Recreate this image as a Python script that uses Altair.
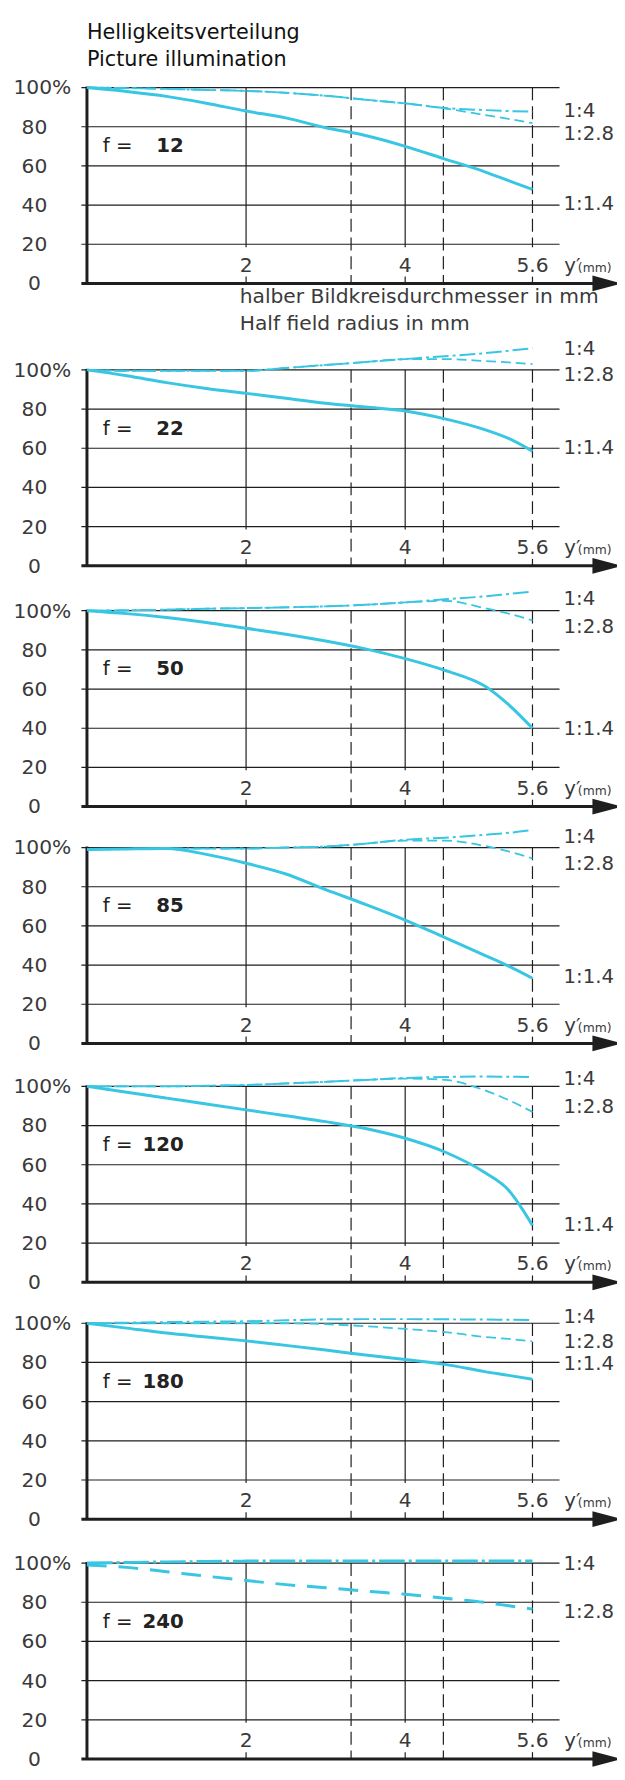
import altair as alt
import pandas as pd

# ---------------- data ----------------
FOCALS = ["12", "22", "50", "85", "120", "180", "240"]
X_MM = [0, 0.5, 1, 1.5, 2, 2.5, 3, 3.5, 4, 4.5, 5, 5.3, 5.6]

F14 = [  # aperture 1:1.4 (solid)
    [100, 98, 95.5, 92, 88, 84.5, 79.5, 75.5, 70, 63.5, 57, 52.5, 48],
    [100, 97, 93.5, 90.5, 88, 85.5, 83, 81, 79, 75, 69.5, 65, 58.5],
    [100, 98.5, 96.5, 94, 91, 88, 84.5, 80.5, 75.5, 69.5, 61.5, 52, 40],
    [99, 99.3, 99.5, 96.5, 92, 86.5, 78.5, 71, 63, 54, 45, 39.5, 33.3],
    [100, 97, 94, 91, 88, 85, 82, 78.5, 73.5, 66.5, 56, 47, 29],
    [100, 97.5, 95, 93, 91, 88.7, 86.3, 83.8, 81.5, 79, 75.3, 73.4, 71.4],
    None,
]
F28 = [  # aperture 1:2.8 (dashed)
    [100, 99.7, 99.3, 98.8, 98.3, 97.3, 95.8, 93.8, 91.9, 89.3, 86, 84, 81.8],
    [100, 99.5, 99.5, 99.5, 99.5, 101, 102.5, 104, 105.5, 105.5, 104.5, 103.8, 103],
    [100, 100.2, 100.5, 101, 101.3, 101.7, 102.2, 103, 104.2, 105, 101.3, 98.5, 95],
    [99, 99.3, 99.5, 99.5, 99.5, 100, 100.5, 102, 103.5, 103.5, 100.8, 98, 94.4],
    [100, 100, 100, 100.3, 100.7, 101.5, 102.3, 103.3, 104, 103.3, 98, 93, 87],
    [100, 100, 100, 100, 100, 100, 99.5, 98.5, 97.1, 95.5, 93, 92, 90.7],
    [99, 97.8, 95.6, 93.3, 91.1, 89, 87.4, 85.7, 84.1, 82, 79.9, 78.2, 76.5],
]
F4 = [  # aperture 1:4 (dash-dot)
    [100, 99.7, 99.3, 98.8, 98.3, 97.3, 95.8, 93.8, 91.9, 89.6, 88.5, 88, 87.7],
    [100, 99.5, 99.5, 99.5, 99.5, 101, 102.5, 104, 105.5, 107, 108.5, 109.8, 111],
    [100, 100.2, 100.5, 101, 101.3, 101.7, 102.2, 103, 104.2, 105.8, 107.3, 108.5, 109.7],
    [99, 99.3, 99.5, 99.5, 99.5, 100, 100.5, 102, 104, 105, 106.5, 107.5, 108.9],
    [100, 100, 100, 100.3, 100.7, 101.5, 102.3, 103.3, 104.3, 104.8, 105, 104.9, 104.8],
    [100, 100.3, 100.6, 100.8, 101, 101.5, 102, 102.1, 102.1, 102, 101.9, 101.8, 101.7],
    [100, 100.3, 100.6, 100.8, 101, 101, 101, 101, 101, 101, 101, 101, 101],
]
RATIO_NAMES = ["1:4", "1:2.8", "1:1.4"]
RATIO_LABEL_Y = [  # where the right-hand labels sit (in % of each panel)
    [88, 76, 40.4],
    [110.7, 97.3, 59.9],
    [106, 91.8, 39.7],
    [105.5, 91.8, 33.8],
    [103.7, 89.4, 29],
    [102.9, 90.3, 79.3],
    [99.3, 75, None],
]
Y_TICKS = [0, 20, 40, 60, 80, 100]
X_TICKS = [2, 4, 5.6]
X_TICK_LABELS = ["2", "4", "5.6"]
X_SOLID = [2, 4]
X_DASHED = [3.32, 4.48]
TITLE_LINES = ["Helligkeitsverteilung", "Picture illumination"]
XTITLE_LINES = ["halber Bildkreisdurchmesser in mm", "Half field radius in mm"]

# ---------------- layout (not data) ----------------
PANEL_SHIFT = [0, 144.1, 267.0, 387.9, 509.8, 630.7, 753.1]  # vertical offset of each panel, in % units
WIDTH, HEIGHT = 537, 1764
X_DOMAIN = [0, 6.6625]
Y_DOMAIN = [134.76 - HEIGHT / 1.985, 134.76]
CYAN = "#38c6e2"
INK = "#1e1e1e"
TXT = "#3a3a3a"
FONT = "DejaVu Sans"
THICK_PANEL = 6  # the f = 240 curves are drawn heavier

xs = alt.Scale(domain=X_DOMAIN, nice=False, zero=False)
ys = alt.Scale(domain=Y_DOMAIN, nice=False, zero=False)


def X(f="x"):
    return alt.X(f"{f}:Q", scale=xs, axis=None)


def Y(f="u"):
    return alt.Y(f"{f}:Q", scale=ys, axis=None)


# curves
rows = []
for p, sh in enumerate(PANEL_SHIFT):
    for name, series in (("1:1.4", F14[p]), ("1:2.8", F28[p]), ("1:4", F4[p])):
        if series is None:
            continue
        for xv, v in zip(X_MM, series):
            rows.append({"panel": p, "ratio": name, "x": xv, "u": v - sh})
curves = pd.DataFrame(rows)

# grid & axes
hgrid = pd.DataFrame([{"x": -0.07, "x2": 5.94, "u": v - sh}
                      for sh in PANEL_SHIFT for v in Y_TICKS if v > 0])
vsolid = pd.DataFrame([{"x": xv, "u": a - sh, "u2": b - sh}
                       for sh in PANEL_SHIFT for xv in X_SOLID
                       for a, b in ((100, 18.5), (3.5, 0))])
vdash = pd.DataFrame([{"x": xv, "u": a - sh, "u2": b - sh}
                      for sh in PANEL_SHIFT
                      for xv, segs in [(X_DASHED[0], [(100, 0)]), (X_DASHED[1], [(100, 0)]),
                                       (X_TICKS[-1], [(100, 18.5), (3.5, 0)])]
                      for a, b in segs])
yaxis = pd.DataFrame([{"x": 0, "u": 100.5 - sh, "u2": -sh} for sh in PANEL_SHIFT])
xaxis = pd.DataFrame([{"x": -0.07, "x2": 6.45, "u": -sh} for sh in PANEL_SHIFT])
arrows = pd.DataFrame([{"x": 6.54, "u": -sh} for sh in PANEL_SHIFT])

# labels
ylab_num = pd.DataFrame([{"x": -0.66, "u": v - sh, "t": str(v)}
                         for sh in PANEL_SHIFT for v in Y_TICKS if v < 100])
ylab_100 = pd.DataFrame([{"x": -0.56, "u": 100 - sh, "t": "100%"} for sh in PANEL_SHIFT])
xlab = pd.DataFrame([{"x": xv, "u": 6.1 - sh, "t": t}
                     for sh in PANEL_SHIFT for xv, t in zip(X_TICKS, X_TICK_LABELS)])
yprime = pd.DataFrame([{"x": 6.0, "u": 6.1 - sh, "t": "y′"} for sh in PANEL_SHIFT])
mm = pd.DataFrame([{"x": 6.17, "u": 6.1 - sh, "t": "(mm)"} for sh in PANEL_SHIFT])
ratio_lab = pd.DataFrame([{"x": 5.99, "u": yv - sh, "t": nm}
                          for p, sh in enumerate(PANEL_SHIFT)
                          for nm, yv in zip(RATIO_NAMES, RATIO_LABEL_Y[p]) if yv is not None])
f_eq = pd.DataFrame([{"x": 0.2, "u": 70 - sh, "t": "f ="} for sh in PANEL_SHIFT])
f_num = pd.DataFrame([{"x": 1.216, "u": 70 - sh, "t": f} for sh, f in zip(PANEL_SHIFT, FOCALS)])
title = pd.DataFrame([{"x": 0, "u": 125, "t": TITLE_LINES[0]},
                      {"x": 0, "u": 111.1, "t": TITLE_LINES[1]}])
xtitle = pd.DataFrame([{"x": 1.92, "u": -9.8, "t": XTITLE_LINES[0]},
                       {"x": 1.92, "u": -23.8, "t": XTITLE_LINES[1]}])

layers = []
layers.append(alt.Chart(hgrid).mark_rule(color=INK, strokeWidth=1.2).encode(x=X(), x2="x2:Q", y=Y()))
layers.append(alt.Chart(vsolid).mark_rule(color=INK, strokeWidth=1.2).encode(x=X(), y=Y(), y2="u2:Q"))
layers.append(alt.Chart(vdash).mark_rule(color=INK, strokeWidth=1.2, strokeDash=[13, 6]).encode(
    x=X(), y=Y(), y2="u2:Q"))
layers.append(alt.Chart(yaxis).mark_rule(color=INK, strokeWidth=3).encode(x=X(), y=Y(), y2="u2:Q"))
layers.append(alt.Chart(xaxis).mark_rule(color=INK, strokeWidth=3).encode(x=X(), x2="x2:Q", y=Y()))
layers.append(alt.Chart(arrows).mark_point(
    shape="M-1,-0.53L1,0L-1,0.53Z", size=900, filled=True, color=INK, opacity=1).encode(x=X(), y=Y()))

styles = {"1:1.4": (dict(strokeWidth=3), dict(strokeWidth=3)),
          "1:2.8": (dict(strokeWidth=1.8, strokeDash=[10, 5]), dict(strokeWidth=3, strokeDash=[20, 12])),
          "1:4": (dict(strokeWidth=2, strokeDash=[16, 4, 3, 4]), dict(strokeWidth=3, strokeDash=[26, 4, 3, 4]))}
for nm, (st, st_thick) in styles.items():
    layers.append(alt.Chart(curves).transform_filter(
        (alt.datum.ratio == nm) & (alt.datum.panel != THICK_PANEL)).mark_line(
        color=CYAN, interpolate="monotone", **st).encode(x=X(), y=Y(), detail="panel:N"))
    layers.append(alt.Chart(curves).transform_filter(
        (alt.datum.ratio == nm) & (alt.datum.panel == THICK_PANEL)).mark_line(
        color=CYAN, interpolate="monotone", **st_thick).encode(x=X(), y=Y(), detail="panel:N"))


def txt(df, **kw):
    base = dict(font=FONT, color=TXT, fontSize=20.5)
    base.update(kw)
    return alt.Chart(df).mark_text(**base).encode(x=X(), y=Y(), text="t:N")


layers += [
    txt(ylab_num, align="center", baseline="middle", dy=1),
    txt(ylab_100, align="center", baseline="middle", dy=1),
    txt(xlab, align="center", baseline="alphabetic"),
    txt(yprime, align="left", baseline="alphabetic", fontSize=20),
    txt(mm, align="left", baseline="alphabetic", fontSize=12.5),
    txt(ratio_lab, align="left", baseline="middle", fontSize=20),
    txt(f_eq, align="left", baseline="middle", fontSize=20, color="#222"),
    txt(f_num, align="right", baseline="middle", fontSize=20, fontWeight="bold", color="#222"),
    txt(title, align="left", baseline="alphabetic", fontSize=21, color="#111"),
    txt(xtitle, align="left", baseline="alphabetic", fontSize=20.5),
]

chart = alt.layer(*layers).properties(
    width=WIDTH, height=HEIGHT,
    autosize=alt.AutoSizeParams(type="none"),
    padding={"left": 80, "top": 0, "right": 0, "bottom": 0},
    background="white",
).configure_view(stroke=None)

chart.save("out.html", embed_options={"renderer": "svg", "actions": False})
